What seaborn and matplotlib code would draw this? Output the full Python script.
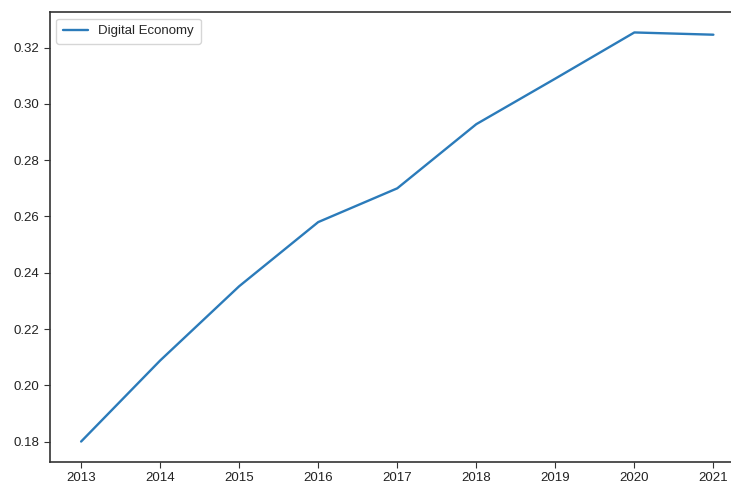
import matplotlib
matplotlib.use("Agg")
import matplotlib.pyplot as plt
import seaborn as sns
import pandas as pd

years = [2013, 2014, 2015, 2016, 2017, 2018, 2019, 2020, 2021]
digital_economy = [0.180, 0.2088, 0.2352, 0.2580, 0.2700, 0.2928, 0.3090, 0.3254, 0.3246]
series_name = "Digital Economy"

df = pd.DataFrame({"year": years, "value": digital_economy})

sns.set_style("ticks")
plt.rcParams["font.family"] = ["Liberation Sans", "DejaVu Sans"]

fig = plt.figure(figsize=(7.31, 4.88), dpi=100)
ax = fig.add_axes([49.5 / 731, 1 - 462 / 488, (745 - 49.5) / 731, (462 - 12) / 488])
sns.lineplot(data=df, x="year", y="value", ax=ax, color="#2b7bba", linewidth=1.7, label=series_name)
ax.set_xticks(years)
ax.set_xticklabels([str(y) for y in years])
ax.set_xlabel("")
ax.set_ylabel("")
ax.tick_params(labelsize=9.5, length=4, color="#333333", labelcolor="#222222")
for s in ax.spines.values():
    s.set_color("#333333")
    s.set_linewidth(1.2)
ax.legend(loc="upper left", fontsize=9.5, frameon=True, handlelength=1.9, borderpad=0.5)
fig.savefig("out.png", dpi=100)
